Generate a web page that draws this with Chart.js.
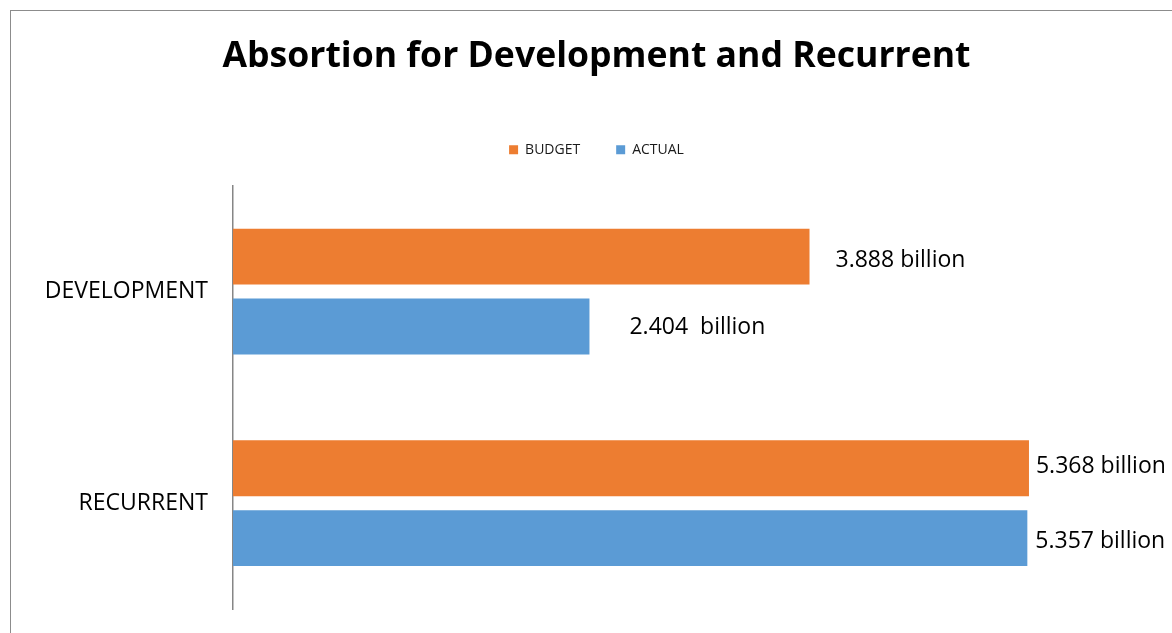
<!DOCTYPE html>
<html>
<head>
<meta charset="utf-8">
<script src="https://cdn.jsdelivr.net/npm/chart.js@4"></script>
<style>
    html, body { margin: 0; padding: 0; background: #fff; overflow: hidden; width: 1172px; height: 633px; }
    #frame { position: absolute; left: 10px; top: 10px; width: 1180px; height: 640px;
             border-left: 1px solid #8c8c8c; border-top: 1px solid #8c8c8c; }
    canvas { display: block; }
</style>
</head>
<body>
<div id="frame"><canvas id="chAbsorcion" width="1180" height="622"></canvas></div>
<script>
// Values in billions.
const categories = ['DEVELOPMENT', 'RECURRENT'];
const budget = [3.888, 5.368];
const actual = [2.404, 5.357];
const budgetLabels = ['3.888 billion', '5.368 billion'];
const actualLabels = ['2.404  billion', '5.357 billion'];

const ORANGE = '#ED7D31';
const BLUE = '#5B9BD5';
const FONT = "'Open Sans', 'Noto Sans', sans-serif";

// Bar-end text, as Excel data labels (nudged by hand in the original).
const valueLabels = {
    id: 'valueLabels',
    afterDatasetsDraw(chart, args, opts) {
        const ctx = chart.ctx;
        ctx.save();
        ctx.font = `23px ${FONT}`;
        ctx.fillStyle = '#000';
        ctx.textAlign = 'left';
        ctx.textBaseline = 'middle';
        chart.data.datasets.forEach((ds, di) => {
            chart.getDatasetMeta(di).data.forEach((bar, i) => {
                ctx.fillText(ds.valueText[i], bar.x + opts.offsets[di][i], bar.y + opts.lift[di][i]);
            });
        });
        ctx.restore();
    }
};

// Extra room under the legend before the plot starts.
const legendGap = {
    id: 'legendGap',
    beforeInit(chart) {
        const fit = chart.legend.fit;
        chart.legend.fit = function () {
            fit.call(this);
            this.height += 19;
        };
    }
};

new Chart(document.getElementById('chAbsorcion'), {
    type: 'bar',
    data: {
        labels: categories,
        datasets: [
            { label: 'BUDGET', data: budget, valueText: budgetLabels, backgroundColor: ORANGE },
            { label: 'ACTUAL', data: actual, valueText: actualLabels, backgroundColor: BLUE }
        ]
    },
    options: {
        indexAxis: 'y',
        responsive: false,
        animation: false,
        categoryPercentage: 0.66,
        barPercentage: 0.8,
        layout: { padding: { left: 0, right: 9, top: 0, bottom: 24 } },
        plugins: {
            title: {
                display: true,
                text: 'Absortion for Development and Recurrent',
                color: '#000',
                font: { family: FONT, size: 35.6, weight: 'bold' },
                padding: { top: 24, bottom: 29 }
            },
            legend: {
                position: 'top',
                labels: {
                    color: '#1a1a1a',
                    font: { family: FONT, size: 14 },
                    boxWidth: 9,
                    boxHeight: 9,
                    padding: 36
                }
            },
            tooltip: { enabled: false },
            valueLabels: { offsets: [[26, 7], [40, 8]], lift: [[4, -2], [1, 3]] }
        },
        scales: {
            x: { display: false, min: 0, max: 6.4 },
            y: {
                grid: { display: false, drawTicks: false },
                border: { display: true, color: '#868686', width: 1.5 },
                ticks: { color: '#000', font: { family: FONT, size: 23 }, padding: 25 },
                afterFit(scale) {
                    scale.width = 222;
                    scale.paddingTop = 0;
                    scale.paddingBottom = 0;
                }
            }
        }
    },
    plugins: [valueLabels, legendGap]
});
</script>
</body>
</html>
